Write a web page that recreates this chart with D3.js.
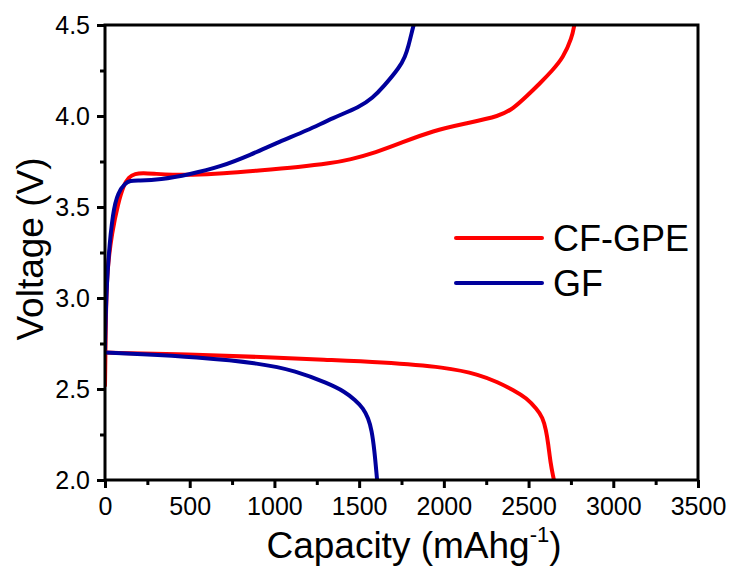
<!DOCTYPE html>
<html>
<head>
<meta charset="utf-8">
<script src="https://cdn.jsdelivr.net/npm/d3@7"></script>
<style>
  html, body { margin: 0; padding: 0; background: #fff; }
  svg { display: block; font-family: "Liberation Sans", Arial, sans-serif; }
</style>
</head>
<body>
<svg id="chart" width="733" height="570"></svg>
<script>
// Charge/discharge profiles: capacity (mAh/g) vs voltage (V)
const cfChargeCap = [0, 5, 12, 41, 77, 110, 140, 177, 224, 300, 400, 502, 700, 900, 1151, 1328, 1446, 1600, 1741, 1936, 2137, 2332, 2408, 2490, 2568, 2640, 2704, 2756, 2770];
const cfChargeV   = [2.52, 2.9, 3.15, 3.36, 3.52, 3.62, 3.665, 3.683, 3.687, 3.682, 3.677, 3.676, 3.685, 3.70, 3.72, 3.74, 3.76, 3.80, 3.85, 3.92, 3.96, 4.0, 4.04, 4.11, 4.18, 4.25, 4.32, 4.43, 4.5];

const cfDischargeCap = [0, 500, 927, 1300, 1623, 2019, 2214, 2312, 2410, 2489, 2548, 2583, 2603, 2616, 2630, 2645, 2650];
const cfDischargeV   = [2.70, 2.69, 2.676, 2.66, 2.648, 2.62, 2.577, 2.54, 2.495, 2.45, 2.39, 2.345, 2.275, 2.20, 2.09, 2.02, 2.0];

const gfChargeCap = [0, 5, 18, 47, 77, 118, 148, 195, 325, 502, 679, 856, 1033, 1192, 1346, 1505, 1580, 1643, 1741, 1771, 1790, 1816, 1822];
const gfChargeV   = [2.72, 2.95, 3.21, 3.48, 3.58, 3.63, 3.645, 3.645, 3.65, 3.68, 3.72, 3.785, 3.86, 3.92, 3.99, 4.05, 4.1, 4.16, 4.27, 4.326, 4.38, 4.48, 4.5];

const gfDischargeCap = [0, 200, 531, 927, 1122, 1318, 1416, 1476, 1525, 1554, 1574, 1590, 1604, 1606];
const gfDischargeV   = [2.70, 2.692, 2.676, 2.64, 2.60, 2.531, 2.485, 2.44, 2.394, 2.339, 2.275, 2.165, 2.02, 2.0];

const seriesNames = ["CF-GPE", "GF"];
const seriesColors = ["#ff0000", "#00009c"];

const xTicks = [0, 500, 1000, 1500, 2000, 2500, 3000, 3500];
const xMinorTicks = d3.range(250, 3500, 500);
const yTicks = [2.0, 2.5, 3.0, 3.5, 4.0, 4.5];
const yMinorTicks = [2.25, 2.75, 3.25, 3.75, 4.25];

const svg = d3.select("#chart");
const plotL = 105, plotR = 698, plotT = 25, plotB = 480;

const x = d3.scaleLinear().domain([0, 3500]).range([plotL, plotR]);
const y = d3.scaleLinear().domain([2.0, 4.5]).range([plotB, plotT]);

svg.append("defs").append("clipPath").attr("id", "plot-clip")
  .append("rect").attr("x", plotL).attr("y", plotT)
  .attr("width", plotR - plotL).attr("height", plotB - plotT);

const zip = (cs, vs) => cs.map((c, i) => [c, vs[i]]);
const line = d3.line().x(d => x(d[0])).y(d => y(d[1])).curve(d3.curveBasis);

const curves = [
  { data: zip(cfChargeCap, cfChargeV), color: seriesColors[0] },
  { data: zip(gfChargeCap, gfChargeV), color: seriesColors[1] },
  { data: zip(cfDischargeCap, cfDischargeV), color: seriesColors[0] },
  { data: zip(gfDischargeCap, gfDischargeV), color: seriesColors[1] }
];

const plot = svg.append("g").attr("clip-path", "url(#plot-clip)");
plot.selectAll("path.curve").data(curves).join("path")
  .attr("class", "curve")
  .attr("d", d => line(d.data))
  .attr("fill", "none")
  .attr("stroke", d => d.color)
  .attr("stroke-width", 4)
  .attr("stroke-linejoin", "round")
  .attr("stroke-linecap", "round");

// Axes
function styleAxis(g) {
  g.select(".domain").remove();
  g.selectAll(".tick line").attr("stroke", "#000").attr("stroke-width", 3);
  g.selectAll(".tick text").attr("fill", "#000").attr("font-size", 25)
    .attr("font-family", "Liberation Sans, Arial, sans-serif");
}

svg.append("g").attr("transform", `translate(0,${plotB})`)
  .call(d3.axisBottom(x).tickValues(xTicks).tickFormat(d3.format("d")).tickSize(8).tickPadding(9))
  .call(styleAxis);

svg.append("g").attr("transform", `translate(0,${plotB})`)
  .call(d3.axisBottom(x).tickValues(xMinorTicks).tickFormat("").tickSize(5))
  .call(styleAxis);

svg.append("g").attr("transform", `translate(${plotL},0)`)
  .call(d3.axisLeft(y).tickValues(yTicks).tickFormat(d3.format(".1f")).tickSize(8).tickPadding(7))
  .call(styleAxis);

svg.append("g").attr("transform", `translate(${plotL},0)`)
  .call(d3.axisLeft(y).tickValues(yMinorTicks).tickFormat("").tickSize(5))
  .call(styleAxis);

// Frame
svg.append("rect")
  .attr("x", plotL).attr("y", plotT)
  .attr("width", plotR - plotL).attr("height", plotB - plotT)
  .attr("fill", "none").attr("stroke", "#000").attr("stroke-width", 3);

// Axis titles
const xTitle = svg.append("text")
  .attr("x", 414).attr("y", 558)
  .attr("text-anchor", "middle")
  .attr("font-size", 37).attr("fill", "#000");
xTitle.append("tspan").text("Capacity (mAhg");
xTitle.append("tspan").attr("font-size", 22).attr("dy", -16).text("-1");
xTitle.append("tspan").attr("dy", 16).text(")");

svg.append("text")
  .attr("transform", "translate(43,249) rotate(-90)")
  .attr("text-anchor", "middle")
  .attr("font-size", 37).attr("fill", "#000")
  .text("Voltage (V)");

// Legend
const legend = svg.append("g");
const legendRows = seriesNames.map((n, i) => ({ name: n, color: seriesColors[i], y: [238, 283][i] }));
legend.selectAll("line").data(legendRows).join("line")
  .attr("x1", 456).attr("x2", 542)
  .attr("y1", d => d.y).attr("y2", d => d.y)
  .attr("stroke", d => d.color).attr("stroke-width", 4)
  .attr("stroke-linecap", "round");
legend.selectAll("text").data(legendRows).join("text")
  .attr("x", 553).attr("y", d => d.y + 13)
  .attr("font-size", 36).attr("fill", "#000")
  .text(d => d.name);
</script>
</body>
</html>
